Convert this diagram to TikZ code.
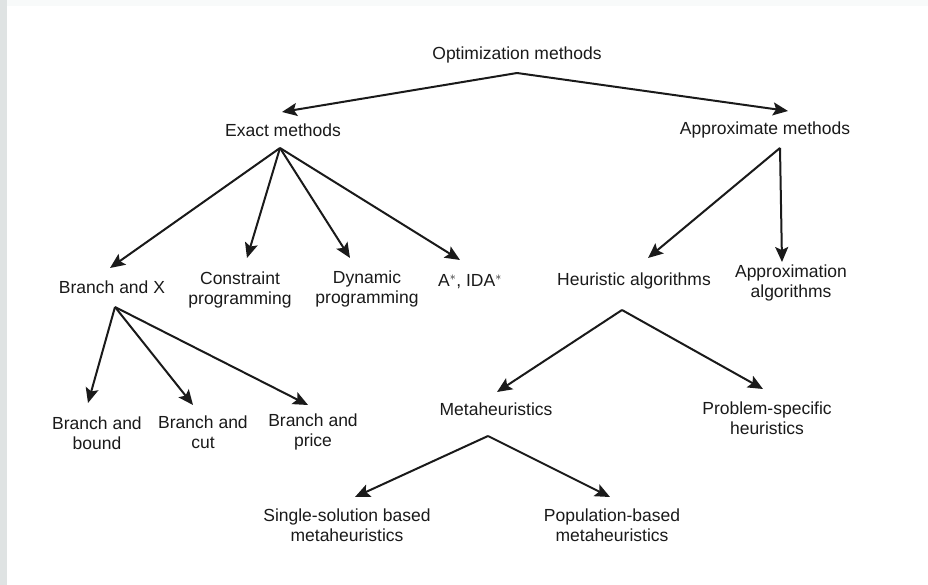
\documentclass[tikz,border=0pt]{standalone}
\usepackage{fontspec}
\setmainfont{Liberation Sans}
\usetikzlibrary{arrows.meta}
\definecolor{strip}{HTML}{DFE3E3}
\definecolor{topstrip}{HTML}{F8FAFA}
\definecolor{ink}{HTML}{1A1A1A}
\begin{document}
\begin{tikzpicture}[x=1pt,y=-1pt,
  lbl/.style={inner sep=0pt,align=center,text=ink,font=\fontsize{17.5}{19.5}\selectfont},
  arr/.style={draw=ink,line width=2pt,-{Stealth[length=15pt,width=13pt,inset=3pt]}}]
\useasboundingbox (0,0) rectangle (928,585);
\fill[white] (0,0) rectangle (928,585);
\fill[topstrip] (0,0) rectangle (928,6);
\fill[strip] (0,0) rectangle (7,585);
% nodes
\node[lbl] (opt) at (517,55) {Optimization methods};
\node[lbl] (ex) at (283,130) {Exact methods};
\node[lbl] (ap) at (765,130) {Approximate methods};
\node[lbl] (bx) at (112,287) {Branch and X};
\node[lbl] (cp) at (240,290) {Constraint\\programming};
\node[lbl] (dp) at (367,289) {Dynamic\\programming};
\node[lbl] (ida) at (470,282) {A$^{*}$, IDA$^{*}$};
\node[lbl] (ha) at (634,281) {Heuristic algorithms};
\node[lbl] (aa) at (791,283) {Approximation\\algorithms};
\node[lbl] (bb) at (97,433) {Branch and\\bound};
\node[lbl] (bc) at (203,432) {Branch and\\cut};
\node[lbl] (bpr) at (313,432) {Branch and\\price};
\node[lbl] (mh) at (496,409) {Metaheuristics};
\node[lbl] (ps) at (767,418) {Problem-specific\\heuristics};
\node[lbl] (ss) at (347,525) {Single-solution based\\metaheuristics};
\node[lbl] (pb) at (612,525) {Population-based\\metaheuristics};
% connectors
\draw[arr] ([shift={(0,18)}]opt.center) -- ([shift={(-1,-18)}]ex.center);
\draw[arr] ([shift={(0,18)}]opt.center) -- ([shift={(23,-19)}]ap.center);
\draw[arr] ([shift={(-3,18)}]ex.center) -- ([shift={(-2,-19)}]bx.center);
\draw[arr] ([shift={(-3,18)}]ex.center) -- ([shift={(7,-32)}]cp.center);
\draw[arr] ([shift={(-3,18)}]ex.center) -- ([shift={(-17,-31)}]dp.center);
\draw[arr] ([shift={(-3,18)}]ex.center) -- ([shift={(-10,-22)}]ida.center);
\draw[arr] ([shift={(15,18)}]ap.center) -- ([shift={(14,-23)}]ha.center);
\draw[arr] ([shift={(15,18)}]ap.center) -- ([shift={(-9,-21)}]aa.center);
\draw[arr] ([shift={(3,20)}]bx.center) -- ([shift={(-9,-30)}]bb.center);
\draw[arr] ([shift={(3,20)}]bx.center) -- ([shift={(-10,-27)}]bc.center);
\draw[arr] ([shift={(3,20)}]bx.center) -- ([shift={(-5,-27)}]bpr.center);
\draw[arr] ([shift={(-12,29)}]ha.center) -- ([shift={(1,-17)}]mh.center);
\draw[arr] ([shift={(-12,29)}]ha.center) -- ([shift={(-4,-29)}]ps.center);
\draw[arr] ([shift={(-8,27)}]mh.center) -- ([shift={(8,-28)}]ss.center);
\draw[arr] ([shift={(-8,27)}]mh.center) -- ([shift={(-2,-28)}]pb.center);
\end{tikzpicture}
\end{document}
